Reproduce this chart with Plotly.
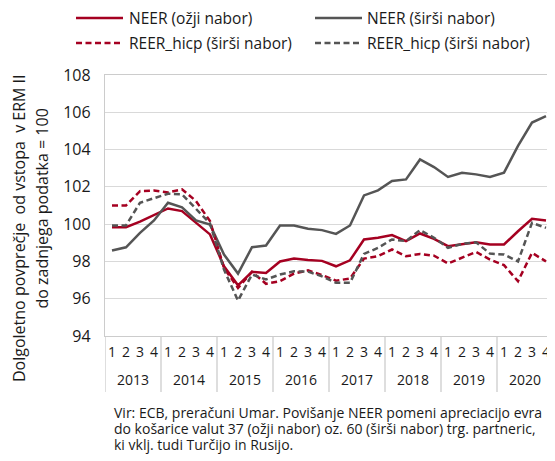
import plotly.graph_objects as go

years = ["2013", "2014", "2015", "2016", "2017", "2018", "2019", "2020"]
quarters = ["1", "2", "3", "4"]

neer_narrow = [99.84, 99.84, 100.13, 100.48, 100.84, 100.70, 100.07, 99.45,
               97.74, 96.72, 97.44, 97.38, 98.00, 98.15, 98.08, 98.03,
               97.74, 98.06, 99.18, 99.27, 99.41, 99.09, 99.50, 99.21,
               98.82, 98.94, 99.03, 98.91, 98.91, 99.62, 100.29, 100.20]
neer_broad = [98.59, 98.76, 99.53, 100.20, 101.15, 100.90, 100.20, 99.98,
              98.37, 97.35, 98.76, 98.85, 99.93, 99.93, 99.75, 99.68,
              99.48, 99.93, 101.54, 101.81, 102.31, 102.40, 103.47, 103.06,
              102.53, 102.76, 102.67, 102.53, 102.76, 104.20, 105.45, 105.80]
reer_narrow = [101.00, 101.00, 101.77, 101.80, 101.70, 101.87, 101.24, 100.16,
               97.65, 96.58, 97.44, 96.80, 96.94, 97.35, 97.52, 97.27,
               96.97, 97.08, 98.15, 98.28, 98.64, 98.28, 98.40, 98.31,
               97.89, 98.19, 98.51, 98.10, 97.80, 96.94, 98.46, 98.00]
reer_broad = [99.93, 99.93, 101.15, 101.38, 101.63, 101.60, 100.80, 100.04,
              97.56, 95.90, 97.30, 97.03, 97.30, 97.47, 97.45, 97.20,
              96.85, 96.85, 98.40, 98.73, 99.18, 99.09, 99.68, 99.27,
              98.73, 98.94, 99.03, 98.42, 98.37, 98.00, 100.07, 99.80]

series_names = ["NEER (ožji nabor)", "NEER (širši nabor)",
                "REER_hicp (širši nabor)", "REER_hicp (širši nabor)"]
y_ticks = [94, 96, 98, 100, 102, 104, 106, 108]
caption_lines = ["Vir: ECB, preračuni Umar. Povišanje NEER pomeni apreciacijo evra",
                 "do košarice valut 37 (ožji nabor) oz. 60 (širši nabor) trg. partneric,",
                 "ki vklj. tudi Turčijo in Rusijo."]

# one category per quarter; tick text shows the quarter number
x_keys = [f"{y}-{q}" for y in years for q in quarters]
x_ticktext = [q for _ in years for q in quarters]

RED = "#A50021"
GRAY = "#555555"
FONT = "Open Sans"
TXT = "#1a1a1a"
AXC = "#cccccc"
DASH = "6px,3.5px"
W, H = 547, 453  # page body adds an 8px margin
ML, MR, MT, MB = 97, 2, 67, 125
PW, PH = W - ML - MR, H - MT - MB


def px_x(x):  # figure pixel -> paper x
    return (x - ML) / PW


def px_y(y):  # figure pixel -> paper y
    return (H - MB - y) / PH


fig = go.Figure()
styles = [(neer_narrow, RED, "solid"), (neer_broad, GRAY, "solid"),
          (reer_narrow, RED, DASH), (reer_broad, GRAY, DASH)]
for (vals, col, dash), name in zip(styles, series_names):
    fig.add_trace(go.Scatter(x=x_keys, y=vals, mode="lines", name=name,
                             showlegend=False,
                             line=dict(color=col, width=2.5, dash=dash)))

# legend drawn as 2x2 grid above the plot
leg_line_x = [68, 307]
leg_text_x = [119, 357]
leg_row_y = [10, 35]
for i, ((vals, col, dash), name) in enumerate(zip(styles, series_names)):
    c, r = i % 2, i // 2
    yy = px_y(leg_row_y[r])
    fig.add_shape(type="line", xref="paper", yref="paper",
                  x0=px_x(leg_line_x[c]), x1=px_x(leg_line_x[c] + 47), y0=yy, y1=yy,
                  line=dict(color=col, width=2.5, dash=dash))
    fig.add_annotation(text=name, xref="paper", yref="paper",
                       x=px_x(leg_text_x[c]), y=yy, xanchor="left", yanchor="middle",
                       showarrow=False, font=dict(size=15.5, color=TXT))

# year group labels and dividers under the quarter ticks
nq = len(quarters)
for k, yr in enumerate(years):
    fig.add_annotation(text=yr, xref="x", yref="paper", x=k * nq + (nq - 1) / 2,
                       y=px_y(371), xanchor="center", yanchor="middle",
                       showarrow=False, font=dict(size=14, color=TXT))
for k in range(len(years) + 1):
    fig.add_shape(type="line", xref="x", yref="paper", x0=k * nq - 0.5, x1=k * nq - 0.5,
                  y0=0, y1=px_y(384), line=dict(color=AXC, width=1.3))

fig.update_layout(
    width=W, height=H,
    margin=dict(l=ML, r=MR, t=MT, b=MB),
    plot_bgcolor="white", paper_bgcolor="white",
    font=dict(family=FONT, size=15, color=TXT),
    showlegend=False,
)
fig.update_yaxes(range=[94, 108], tickvals=y_ticks, ticktext=[str(v) for v in y_ticks],
                 showgrid=True, gridcolor="#d9d9d9", gridwidth=1.3,
                 showline=True, linecolor=AXC, linewidth=1.3, mirror=True,
                 ticks="", tickfont=dict(size=16), ticklabelstandoff=10, zeroline=False)
fig.update_xaxes(type="category", range=[-0.5, len(x_keys) - 0.5],
                 tickmode="array", tickvals=x_keys, ticktext=x_ticktext,
                 showgrid=False, showline=True, linecolor=AXC, linewidth=1.3, mirror=True,
                 ticks="", tickfont=dict(size=14), tickangle=0, ticklabelstandoff=3)

fig.add_annotation(text="Dolgoletno povprečje  od vstopa  v ERM II", textangle=-90,
                   xref="paper", yref="paper", x=px_x(11), y=px_y(220),
                   xanchor="center", yanchor="middle", showarrow=False,
                   font=dict(size=16, color=TXT))
fig.add_annotation(text="do zadnjega podatka = 100", textangle=-90,
                   xref="paper", yref="paper", x=px_x(33), y=px_y(200.5),
                   xanchor="center", yanchor="middle", showarrow=False,
                   font=dict(size=16, color=TXT))
for line, yc in zip(caption_lines, [404, 420.3, 436.5]):
    fig.add_annotation(text=line, xref="paper", yref="paper", x=px_x(104), y=px_y(yc),
                       xanchor="left", yanchor="middle", align="left", showarrow=False,
                       font=dict(size=14.0, color=TXT))

fig.write_html("out.html")
